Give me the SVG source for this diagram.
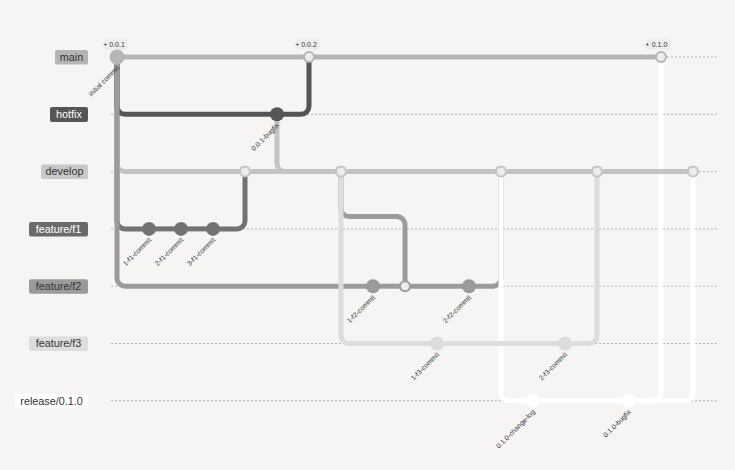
<svg xmlns="http://www.w3.org/2000/svg" width="735" height="470" viewBox="0 0 735 470">
<style>
.lane{stroke:#9a9a9a;stroke-width:0.7;stroke-dasharray:2 2;fill:none}
.a{fill:none;stroke-width:5;stroke-linecap:butt}
.main{stroke:#b6b6b6}.hot{stroke:#555}.dev{stroke:#c4c4c4}.f1{stroke:#727272}.f2{stroke:#9b9b9b}.f3{stroke:#dddddd}.rel{stroke:#ffffff}
.bl{font-family:"Liberation Sans",Arial,sans-serif;font-size:10.8px;text-anchor:middle}
.cl{font-family:"Liberation Sans",Arial,sans-serif;font-size:6.9px;text-anchor:end;fill:#333}
.tg{font-family:"Liberation Sans",Arial,sans-serif;font-size:7px;text-anchor:middle;fill:#333}
.tag{fill:#eeeeee;stroke:#dddddd;stroke-width:0.5}
.mi{fill:#ececec}
</style>
<rect width="735" height="470" fill="#f6f5f3"/>
<g id="lanes">
<line class="lane" x1="111" y1="57" x2="718" y2="57"/>
<line class="lane" x1="111" y1="114.3" x2="718" y2="114.3"/>
<line class="lane" x1="111" y1="171.6" x2="718" y2="171.6"/>
<line class="lane" x1="111" y1="228.9" x2="718" y2="228.9"/>
<line class="lane" x1="111" y1="286.2" x2="718" y2="286.2"/>
<line class="lane" x1="111" y1="343.5" x2="718" y2="343.5"/>
<line class="lane" x1="111" y1="400.8" x2="718" y2="400.8"/>
</g>
<g id="branch-main"><rect x="55" y="50" width="33" height="14.5" rx="2" fill="#b5b5b5"/><text class="bl" x="71.5" y="60.8" fill="#333">main</text></g>
<g id="branch-hotfix"><rect x="50" y="107" width="38" height="15" rx="2" fill="#555"/><text class="bl" x="69" y="118.1" fill="#fff">hotfix</text></g>
<g id="branch-develop"><rect x="41" y="164.6" width="47" height="14.5" rx="2" fill="#c8c8c8"/><text class="bl" x="64.5" y="175.4" fill="#333">develop</text></g>
<g id="branch-feature-f1"><rect x="29" y="221.9" width="59" height="14.5" rx="2" fill="#6b6b6b"/><text class="bl" x="58.5" y="232.7" fill="#fff">feature/f1</text></g>
<g id="branch-feature-f2"><rect x="29" y="279.2" width="59" height="14.5" rx="2" fill="#9b9b9b"/><text class="bl" x="58.5" y="290" fill="#333">feature/f2</text></g>
<g id="branch-feature-f3"><rect x="29" y="336.5" width="59" height="14.5" rx="2" fill="#dddddd"/><text class="bl" x="58.5" y="347.3" fill="#333">feature/f3</text></g>
<g id="branch-release"><rect x="15" y="393.8" width="73" height="14.5" rx="2" fill="#ffffff"/><text class="bl" x="51.5" y="404.6" fill="#333">release/0.1.0</text></g>
<g id="connectors">
<path class="a f1" d="M117 57 L117 220.9 A8 8 0 0 0 125 228.9 L149 228.9"/>
<path class="a f1" d="M149 228.9 L181 228.9"/>
<path class="a f1" d="M181 228.9 L213 228.9"/>
<path class="a dev" d="M117 57 L117 163.6 A8 8 0 0 0 125 171.6 L245 171.6"/>
<path class="a f1" d="M213 228.9 L237 228.9 A8 8 0 0 0 245 220.9 L245 171.6"/>
<path class="a hot" d="M117 57 L117 106.3 A8 8 0 0 0 125 114.3 L277 114.3"/>
<path class="a main" d="M117 57 L309 57"/>
<path class="a hot" d="M277 114.3 L301 114.3 A8 8 0 0 0 309 106.3 L309 57"/>
<path class="a dev" d="M245 171.6 L341 171.6"/>
<path class="a dev" d="M277 114.3 L277 163.6 A8 8 0 0 0 285 171.6 L341 171.6"/>
<path class="a f2" d="M117 57 L117 278.2 A8 8 0 0 0 125 286.2 L373 286.2"/>
<path class="a f2" d="M373 286.2 L405 286.2"/>
<path class="a f2" d="M341 171.6 L341 208.6 A8 8 0 0 0 349 216.6 L397 216.6 A8 8 0 0 1 405 224.6 L405 286.2"/>
<path class="a f3" d="M341 171.6 L341 335.5 A8 8 0 0 0 349 343.5 L437 343.5"/>
<path class="a f2" d="M405 286.2 L469 286.2"/>
<path class="a dev" d="M341 171.6 L501 171.6"/>
<path class="a f2" d="M469 286.2 L493 286.2 A8 8 0 0 0 501 278.2 L501 171.6"/>
<path class="a rel" d="M501 171.6 L501 392.8 A8 8 0 0 0 509 400.8 L533 400.8"/>
<path class="a f3" d="M437 343.5 L565 343.5"/>
<path class="a dev" d="M501 171.6 L597 171.6"/>
<path class="a f3" d="M565 343.5 L589 343.5 A8 8 0 0 0 597 335.5 L597 171.6"/>
<path class="a rel" d="M533 400.8 L629 400.8"/>
<path class="a main" d="M309 57 L661 57"/>
<path class="a rel" d="M629 400.8 L653 400.8 A8 8 0 0 0 661 392.8 L661 57"/>
<path class="a dev" d="M597 171.6 L693 171.6"/>
<path class="a rel" d="M629 400.8 L685 400.8 A8 8 0 0 0 693 392.8 L693 171.6"/>
</g>
<g id="c-initial"><circle cx="117" cy="57" r="7.5" fill="#b6b6b6"/><text class="cl" transform="translate(119.5 68.5) rotate(-45)">initial commit</text></g>
<g id="c-1-f1"><circle cx="149" cy="228.9" r="7" fill="#727272"/><text class="cl" transform="translate(151.5 240.5) rotate(-45)">1-f1-commit</text></g>
<g id="c-2-f1"><circle cx="181" cy="228.9" r="7" fill="#727272"/><text class="cl" transform="translate(183.5 240.5) rotate(-45)">2-f1-commit</text></g>
<g id="c-3-f1"><circle cx="213" cy="228.9" r="7" fill="#727272"/><text class="cl" transform="translate(215.5 240.5) rotate(-45)">3-f1-commit</text></g>
<g id="m-dev-1"><circle cx="245" cy="171.6" r="6" fill="#c4c4c4"/><circle cx="245" cy="171.6" r="4" class="mi"/></g>
<g id="c-bugfix"><circle cx="277" cy="114.3" r="7" fill="#555"/><text class="cl" transform="translate(279.5 125.8) rotate(-45)">0.0.1-bugfix</text></g>
<g id="m-main-1"><circle cx="309" cy="57" r="6" fill="#b6b6b6"/><circle cx="309" cy="57" r="4" class="mi"/></g>
<g id="m-dev-2"><circle cx="341" cy="171.6" r="6" fill="#c4c4c4"/><circle cx="341" cy="171.6" r="4" class="mi"/></g>
<g id="c-1-f2"><circle cx="373" cy="286.2" r="7" fill="#9b9b9b"/><text class="cl" transform="translate(375.5 297.8) rotate(-45)">1-f2-commit</text></g>
<g id="m-f2"><circle cx="405" cy="286.2" r="6" fill="#9b9b9b"/><circle cx="405" cy="286.2" r="4" class="mi"/></g>
<g id="c-1-f3"><circle cx="437" cy="343.5" r="7" fill="#dddddd"/><text class="cl" transform="translate(439.5 355) rotate(-45)">1-f3-commit</text></g>
<g id="c-2-f2"><circle cx="469" cy="286.2" r="7" fill="#9b9b9b"/><text class="cl" transform="translate(471.5 297.8) rotate(-45)">2-f2-commit</text></g>
<g id="m-dev-3"><circle cx="501" cy="171.6" r="6" fill="#c4c4c4"/><circle cx="501" cy="171.6" r="4" class="mi"/></g>
<g id="c-changelog"><circle cx="533" cy="400.8" r="7" fill="#ffffff"/><text class="cl" transform="translate(535.5 412.3) rotate(-45)">0.1.0-change-log</text></g>
<g id="c-2-f3"><circle cx="565" cy="343.5" r="7" fill="#dddddd"/><text class="cl" transform="translate(567.5 355) rotate(-45)">2-f3-commit</text></g>
<g id="m-dev-4"><circle cx="597" cy="171.6" r="6" fill="#c4c4c4"/><circle cx="597" cy="171.6" r="4" class="mi"/></g>
<g id="c-rel-bugfix"><circle cx="629" cy="400.8" r="7" fill="#ffffff"/><text class="cl" transform="translate(631.5 412.3) rotate(-45)">0.1.0-bugfix</text></g>
<g id="m-main-2"><circle cx="661" cy="57" r="6" fill="#b6b6b6"/><circle cx="661" cy="57" r="4" class="mi"/></g>
<g id="m-dev-5"><circle cx="693" cy="171.6" r="6" fill="#c4c4c4"/><circle cx="693" cy="171.6" r="4" class="mi"/></g>
<g id="tag-001"><polygon class="tag" points="102,44.5 106,40 127,40 127,49 106,49"/><circle cx="105.5" cy="44.5" r="1" fill="#333"/><text class="tg" x="117" y="47.3">0.0.1</text></g>
<g id="tag-002"><polygon class="tag" points="294,44.5 298,40 319,40 319,49 298,49"/><circle cx="297.5" cy="44.5" r="1" fill="#333"/><text class="tg" x="309" y="47.3">0.0.2</text></g>
<g id="tag-010"><polygon class="tag" points="644,44.5 648,40 669,40 669,49 648,49"/><circle cx="647.5" cy="44.5" r="1" fill="#333"/><text class="tg" x="659.5" y="47.3">0.1.0</text></g>
</svg>
